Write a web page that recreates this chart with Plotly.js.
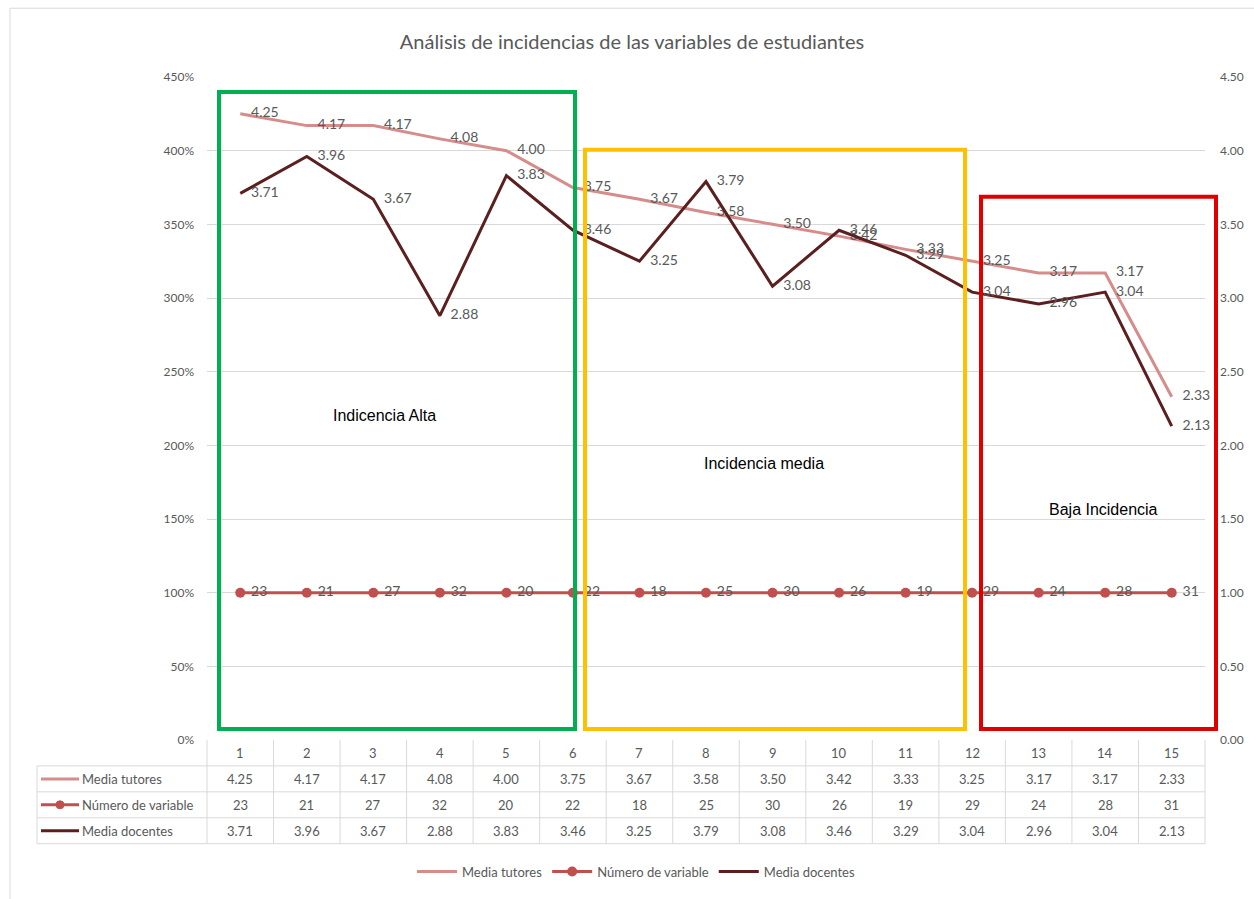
<!DOCTYPE html>
<html><head><meta charset="utf-8">
<script src="https://cdn.plot.ly/plotly-3.0.1.min.js"></script>
<style>body{margin:0;padding:0;background:#fff}#chart{width:1254px;height:899px}</style>
</head><body><div id="chart"></div>
<script>
const categories = [1,2,3,4,5,6,7,8,9,10,11,12,13,14,15];
const mediaTutores = [4.25,4.17,4.17,4.08,4.00,3.75,3.67,3.58,3.50,3.42,3.33,3.25,3.17,3.17,2.33];
const numeroVariable = [23,21,27,32,20,22,18,25,30,26,19,29,24,28,31];
const numeroPlotY = [1,1,1,1,1,1,1,1,1,1,1,1,1,1,1];
const mediaDocentes = [3.71,3.96,3.67,2.88,3.83,3.46,3.25,3.79,3.08,3.46,3.29,3.04,2.96,3.04,2.13];
const seriesNames = ["Media tutores","Número de variable","Media docentes"];
const zoneLabels = ["Indicencia Alta","Incidencia media","Baja Incidencia"];

const cTut = "#D58C8A", cNum = "#C0504D", cDoc = "#5B1F1F";
const gray = "#595959", grid = "#D9D9D9";
const fnt = "Lato, 'Open Sans', sans-serif";
const pad = "\u00a0\u00a0\u00a0";

const traces = [
  {x:categories, y:mediaTutores, name:seriesNames[0], type:"scatter", mode:"lines+text", yaxis:"y2",
   line:{color:cTut,width:3}, text:mediaTutores.map(v=>pad+v.toFixed(2)), textposition:"middle right",
   textfont:{family:fnt,size:14,color:gray}, cliponaxis:false},
  {x:categories, y:numeroPlotY, name:seriesNames[1], type:"scatter", mode:"lines+markers+text", yaxis:"y",
   line:{color:cNum,width:3}, marker:{color:cNum,size:10}, text:numeroVariable.map(v=>"\u00a0"+v), textposition:"middle right",
   textfont:{family:fnt,size:14,color:gray}, cliponaxis:false},
  {x:categories, y:mediaDocentes, name:seriesNames[2], type:"scatter", mode:"lines+text", yaxis:"y2",
   line:{color:cDoc,width:3}, text:mediaDocentes.map(v=>pad+v.toFixed(2)), textposition:"middle right",
   textfont:{family:fnt,size:14,color:gray}, cliponaxis:false}
];

const L=207, R=1205, T=77, B=742, W=R-L, H=B-T;
const px = x => (x-L)/W;
const py = y => (B-y)/H;

const shapes = [];
const annotations = [];

// chart border
shapes.push({type:"rect", xref:"paper", yref:"paper", x0:px(10), x1:px(1270), y0:py(910), y1:py(8), line:{color:"#D9D9D9",width:1}, layer:"below"});

// zone boxes
shapes.push({type:"rect", xref:"paper", yref:"paper", x0:px(219), x1:px(575), y0:py(731), y1:py(92), line:{color:"#00B050",width:4}});
shapes.push({type:"rect", xref:"paper", yref:"paper", x0:px(585), x1:px(965), y0:py(731), y1:py(150), line:{color:"#FFC000",width:4}});
shapes.push({type:"rect", xref:"paper", yref:"paper", x0:px(981), x1:px(1216), y0:py(731), y1:py(197), line:{color:"#E00000",width:4}});

const zoneFont = {family:"Liberation Sans, Arial",size:16,color:"#000"};
annotations.push({xref:"paper", yref:"paper", x:px(384), y:py(417), xanchor:"center", yanchor:"middle", text:zoneLabels[0], showarrow:false, font:zoneFont});
annotations.push({xref:"paper", yref:"paper", x:px(764), y:py(465), xanchor:"center", yanchor:"middle", text:zoneLabels[1], showarrow:false, font:zoneFont});
annotations.push({xref:"paper", yref:"paper", x:px(1103), y:py(511), xanchor:"center", yanchor:"middle", text:zoneLabels[2], showarrow:false, font:zoneFont});

// data table
const rowB = [742,768,794,820,846];
const colW = W/categories.length;
for (let i=1;i<rowB.length;i++){
  shapes.push({type:"line", xref:"paper", yref:"paper", x0:px(37), x1:1, y0:py(rowB[i]), y1:py(rowB[i]), line:{color:grid,width:1}});
}
shapes.push({type:"line", xref:"paper", yref:"paper", x0:px(37), x1:px(37), y0:py(768), y1:py(846), line:{color:grid,width:1}});
for (let k=0;k<=categories.length;k++){
  const xx = L + k*colW;
  shapes.push({type:"line", xref:"paper", yref:"paper", x0:px(xx), x1:px(xx), y0:0, y1:py(846), line:{color:grid,width:1}});
}
const rowC = [755,781,807,833];
const tableRows = [categories.map(String), mediaTutores.map(v=>v.toFixed(2)), numeroVariable.map(String), mediaDocentes.map(v=>v.toFixed(2))];
tableRows.forEach((row,r)=>{
  row.forEach((t,i)=>{
    annotations.push({xref:"x", yref:"paper", x:categories[i], y:py(rowC[r]), xanchor:"center", yanchor:"middle", text:t, showarrow:false, font:{family:fnt,size:13,color:gray}});
  });
});
const keyColors=[cTut,cNum,cDoc];
seriesNames.forEach((n,r)=>{
  const yy = py(rowC[r+1]);
  shapes.push({type:"line", xref:"paper", yref:"paper", x0:px(41), x1:px(79), y0:yy, y1:yy, line:{color:keyColors[r],width:3}});
  if (r===1) shapes.push({type:"circle", xref:"paper", yref:"paper", xsizemode:"pixel", ysizemode:"pixel", xanchor:px(60), yanchor:yy, x0:-4, x1:4, y0:-4, y1:4, fillcolor:cNum, line:{color:cNum,width:1}});
  annotations.push({xref:"paper", yref:"paper", x:px(80), y:yy, xanchor:"left", yanchor:"middle", text:n, showarrow:false, font:{family:fnt,size:13,color:gray}});
});

const layout = {
  width:1254, height:899,
  margin:{l:L, r:1254-R, t:T, b:899-B, pad:0},
  paper_bgcolor:"#fff", plot_bgcolor:"#fff",
  title:{text:"Análisis de incidencias de las variables de estudiantes", font:{family:fnt,size:20,color:gray}, xref:"container", x:632/1254, xanchor:"center", yref:"container", y:1-42/899, yanchor:"middle"},
  xaxis:{range:[0.5,15.5], showticklabels:false, showgrid:false, zeroline:false, ticks:"", showline:false, fixedrange:true},
  yaxis:{range:[0,4.5], dtick:0.5, tickformat:".0%", showgrid:true, gridcolor:grid, gridwidth:1, zeroline:false, showline:false,
         tickfont:{family:fnt,size:12,color:gray}, ticks:"", ticklabelstandoff:12},
  yaxis2:{range:[0,4.5], dtick:0.5, tickformat:".2f", overlaying:"y", side:"right", showgrid:false, zeroline:false, showline:false,
         tickfont:{family:fnt,size:12,color:gray}, ticks:"", ticklabelstandoff:14},
  legend:{orientation:"h", x:px(636), xanchor:"center", y:py(874), yanchor:"middle", font:{family:fnt,size:13,color:gray}, traceorder:"normal", itemwidth:40},
  shapes:shapes, annotations:annotations,
  font:{family:fnt}
};
Plotly.newPlot("chart", traces, layout, {displayModeBar:false, responsive:false});
</script></body></html>
